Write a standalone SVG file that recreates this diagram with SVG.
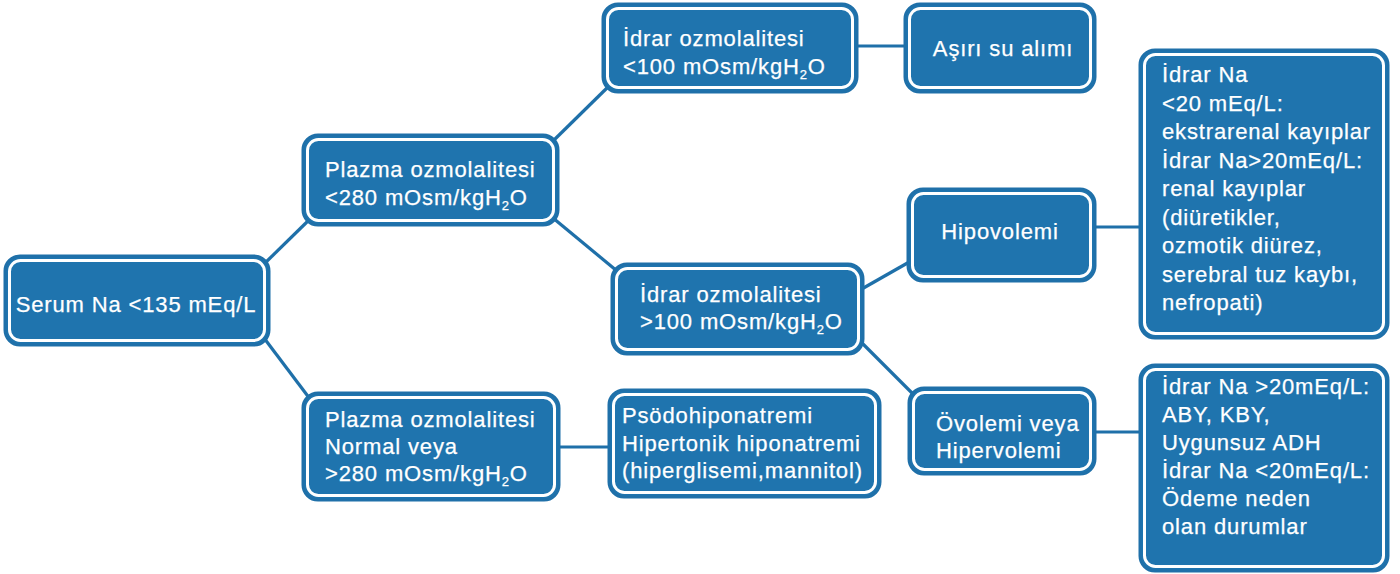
<svg xmlns="http://www.w3.org/2000/svg" width="1400" height="574" viewBox="0 0 1400 574">
<style>
.bo{fill:#1f74ae;stroke:#1f70a9;stroke-width:3}
.bi{fill:none;stroke:#ffffff;stroke-width:3}
.c line{stroke:#1f70a9;stroke-width:3.2}
text{font-family:"Liberation Sans",Arial,sans-serif;font-size:22px;fill:#ffffff;letter-spacing:0.85px;stroke:#ffffff;stroke-width:0.25px}
.m{text-anchor:middle}
.s{font-size:13px}
</style>
<rect width="1400" height="574" fill="#ffffff"/>
<g class="c" id="connectors">
<line x1="264" y1="264" x2="310" y2="219"/>
<line x1="264" y1="338" x2="310" y2="399"/>
<line x1="553" y1="141" x2="609" y2="86"/>
<line x1="553" y1="218" x2="617" y2="271"/>
<line x1="855" y1="46" x2="907" y2="46"/>
<line x1="860" y1="290" x2="911" y2="261"/>
<line x1="860" y1="341" x2="913" y2="394"/>
<line x1="1093" y1="227" x2="1142" y2="227"/>
<line x1="1093" y1="432" x2="1142" y2="432"/>
<line x1="557" y1="447" x2="611" y2="447"/>
</g>
<g id="n-serum">
<rect class="bo" x="5" y="256" width="264" height="89" rx="15"/>
<rect class="bi" x="9.5" y="260.5" width="255" height="80" rx="11"/>
<text class="m" x="136" y="312">Serum Na &lt;135 mEq/L</text>
</g>
<g id="n-plazma-low">
<rect class="bo" x="303" y="135" width="255" height="90" rx="15"/>
<rect class="bi" x="307.5" y="139.5" width="246" height="81" rx="11"/>
<text x="325" y="177">Plazma ozmolalitesi</text>
<text x="325" y="205">&lt;280 mOsm/kgH<tspan class="s" dy="5">2</tspan><tspan dy="-5">O</tspan></text>
</g>
<g id="n-idrar-low">
<rect class="bo" x="603" y="4" width="254" height="88" rx="15"/>
<rect class="bi" x="607.5" y="8.5" width="245" height="79" rx="11"/>
<text x="623" y="46">İdrar ozmolalitesi</text>
<text x="623" y="74">&lt;100 mOsm/kgH<tspan class="s" dy="5">2</tspan><tspan dy="-5">O</tspan></text>
</g>
<g id="n-asiri">
<rect class="bo" x="905" y="4" width="190" height="88" rx="15"/>
<rect class="bi" x="909.5" y="8.5" width="181" height="79" rx="11"/>
<text class="m" x="1003" y="56">Aşırı su alımı</text>
</g>
<g id="n-idrar-high">
<rect class="bo" x="612" y="264" width="251" height="90" rx="15"/>
<rect class="bi" x="616.5" y="268.5" width="242" height="81" rx="11"/>
<text x="640" y="302">İdrar ozmolalitesi</text>
<text x="640" y="329">&gt;100 mOsm/kgH<tspan class="s" dy="5">2</tspan><tspan dy="-5">O</tspan></text>
</g>
<g id="n-hipo">
<rect class="bo" x="908" y="189" width="187" height="92" rx="15"/>
<rect class="bi" x="912.5" y="193.5" width="178" height="83" rx="11"/>
<text class="m" x="1000" y="239">Hipovolemi</text>
</g>
<g id="n-ovo">
<rect class="bo" x="909" y="388" width="186" height="86" rx="15"/>
<rect class="bi" x="913.5" y="392.5" width="177" height="77" rx="11"/>
<text x="936" y="431">Övolemi veya</text>
<text x="936" y="458">Hipervolemi</text>
</g>
<g id="n-idrar-na">
<rect class="bo" x="1140" y="50" width="248" height="288" rx="15"/>
<rect class="bi" x="1144.5" y="54.5" width="239" height="279" rx="11"/>
<text x="1162" y="82">İdrar Na</text>
<text x="1162" y="110.5">&lt;20 mEq/L:</text>
<text x="1162" y="139">ekstrarenal kayıplar</text>
<text x="1162" y="167.5">İdrar Na&gt;20mEq/L:</text>
<text x="1162" y="196">renal kayıplar</text>
<text x="1162" y="224.5">(diüretikler,</text>
<text x="1162" y="253">ozmotik diürez,</text>
<text x="1162" y="281.5">serebral tuz kaybı,</text>
<text x="1162" y="310">nefropati)</text>
</g>
<g id="n-idrar-na2">
<rect class="bo" x="1140" y="365" width="248" height="206" rx="15"/>
<rect class="bi" x="1144.5" y="369.5" width="239" height="197" rx="11"/>
<text x="1162" y="394">İdrar Na &gt;20mEq/L:</text>
<text x="1162" y="422">ABY, KBY,</text>
<text x="1162" y="450">Uygunsuz ADH</text>
<text x="1162" y="478">İdrar Na &lt;20mEq/L:</text>
<text x="1162" y="506">Ödeme neden</text>
<text x="1162" y="534">olan durumlar</text>
</g>
<g id="n-plazma-normal">
<rect class="bo" x="303" y="393" width="256" height="107" rx="15"/>
<rect class="bi" x="307.5" y="397.5" width="247" height="98" rx="11"/>
<text x="325" y="427">Plazma ozmolalitesi</text>
<text x="325" y="454">Normal veya</text>
<text x="325" y="481">&gt;280 mOsm/kgH<tspan class="s" dy="5">2</tspan><tspan dy="-5">O</tspan></text>
</g>
<g id="n-psodo">
<rect class="bo" x="609" y="390" width="271" height="107" rx="15"/>
<rect class="bi" x="613.5" y="394.5" width="262" height="98" rx="11"/>
<text x="622" y="423">Psödohiponatremi</text>
<text x="622" y="451">Hipertonik hiponatremi</text>
<text x="622" y="478">(hiperglisemi,mannitol)</text>
</g>
</svg>
